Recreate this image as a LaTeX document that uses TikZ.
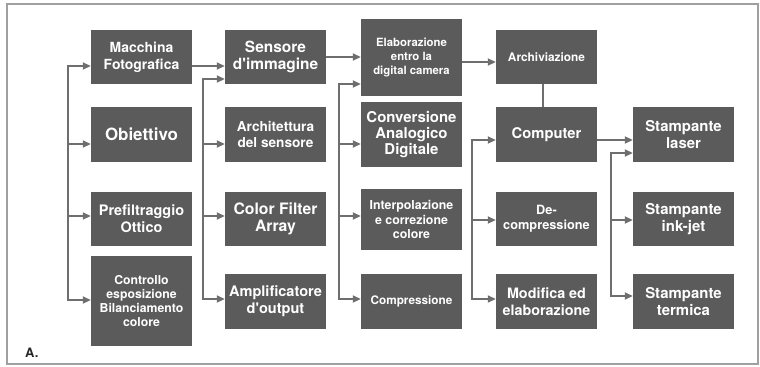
\documentclass[tikz,border=0pt]{standalone}
\usepackage{fontspec}
\setmainfont{TeX Gyre Heros}[Ligatures=TeXOff]
\usetikzlibrary{arrows.meta}

\definecolor{boxgray}{HTML}{5B5B5B}
\definecolor{linegray}{HTML}{6E6E6E}
\definecolor{framegray}{HTML}{A0A0A0}

\newcommand{\fsz}[2]{\bfseries\fontsize{#1}{#2}\selectfont}

\tikzset{
  blk/.style={fill=boxgray, text=white, align=center, inner sep=0pt,
              minimum width=101bp},
  link/.style={draw=linegray, line width=1.8bp},
  bus/.style={link, line cap=rect},
  arr/.style={link, -{Triangle[length=8bp,width=7bp]}}
}

\begin{document}
\begin{tikzpicture}[x=1bp, y=-1bp]
    \useasboundingbox (0,0) rectangle (760,366);
    \draw [framegray, line width=2bp] (7,4) rectangle (758,364);

    % first column
    \node[blk, minimum height=54bp, font=\fsz{14}{17}] (mac) at (141.5,57) {Macchina\\Fotografica};
    \node[blk, minimum height=55bp, font=\fsz{17}{20}] (obi) at (141.5,134.5) {Obiettivo};
    \node[blk, minimum height=54bp, font=\fsz{14.5}{17}] (pre) at (141.5,219) {Prefiltraggio\\Ottico};
    \node[blk, minimum height=90bp, font=\fsz{12.3}{14}] (con) at (141.5,301) {Controllo\\esposizione\\Bilanciamento\\colore};

    % second column
    \node[blk, minimum height=54bp, font=\fsz{15.5}{17}] (sen) at (275.5,57) {Sensore\\d'immagine};
    \node[blk, minimum height=55bp, font=\fsz{13.7}{16}] (arc) at (275.5,134.5) {Architettura\\del sensore};
    \node[blk, minimum height=54bp, font=\fsz{15.8}{17}] (cfa) at (275.5,219) {Color Filter\\Array};
    \node[blk, minimum height=55bp, font=\fsz{14.6}{17}] (amp) at (275.5,301.5) {Amplificatore\\d'output};

    % third column
    \node[blk, minimum height=77bp, font=\fsz{11.4}{14.5}] (ela) at (411.5,57.5) {Elaborazione\\entro la\\digital camera};
    \node[blk, minimum height=65bp, font=\fsz{15}{16}] (adc) at (411.5,134.5) {Conversione\\Analogico\\Digitale};
    \node[blk, minimum height=61bp, font=\fsz{12.4}{15}] (int) at (411.5,219.5) {Interpolazione\\e correzione\\colore};
    \node[blk, minimum height=55bp, font=\fsz{11.8}{14}] (cmp) at (411.5,301.5) {Compressione};

    % fourth column
    \node[blk, minimum height=54bp, font=\fsz{11.9}{14}] (arv) at (546.5,57) {Archiviazione};
    \node[blk, minimum height=55bp, font=\fsz{14.8}{17}] (pc) at (546.5,134.5) {Computer};
    \node[blk, minimum height=54bp, font=\fsz{12.8}{15}] (dec) at (546.5,219) {De-\\compressione};
    \node[blk, minimum height=55bp, font=\fsz{14.4}{17}] (mod) at (546.5,301.5) {Modifica ed\\elaborazione};

    % printers
    \node[blk, minimum height=55bp, font=\fsz{15}{17}] (las) at (683.5,134.5) {Stampante\\laser};
    \node[blk, minimum height=54bp, font=\fsz{15}{17}] (ink) at (683.5,219) {Stampante\\ink-jet};
    \node[blk, minimum height=55bp, font=\fsz{15}{17}] (ter) at (683.5,301.5) {Stampante\\termica};

    \node[anchor=base west, text=black!85, inner sep=0pt, font=\fsz{13}{15}] (lbl) at (25,357) {A.};

    % buses
    \foreach \bx/\ya/\yb in {68/66/300, 203/79/299, 339/84/299, 472/140/299, 611/153/296}
        \draw[bus] (\bx,\ya) -- (\bx,\yb);
    \foreach \bx/\y/\n in {68/66/mac, 68/144/obi, 68/216/pre, 68/300/con,
                           203/79/sen, 203/144/arc, 203/216/cfa, 203/299/amp,
                           339/84/ela, 339/144/adc, 339/216/int, 339/299/cmp,
                           472/140/pc, 472/220/dec, 472/299/mod,
                           611/153/las, 611/220/ink, 611/296/ter}
    {
        \coordinate (tap) at (\bx,\y);
        \draw[arr] (tap) -- (tap -| \n.west);
    }

    % straight links
    \draw[arr] ([yshift=-9bp]mac.east) -- ([yshift=-9bp]mac.east -| sen.west);
    \draw[arr] (sen.east) -- (sen.east -| ela.west);
    \draw[arr] ([yshift=-4.5bp]ela.east) -- ([yshift=-4.5bp]ela.east -| arv.west);
    \draw[link] ([xshift=-3.5bp]arv.south) -- ([xshift=-3.5bp]pc.north);
    \draw[arr] ([yshift=-5.5bp]pc.east) -- ([yshift=-5.5bp]pc.east -| las.west);
\end{tikzpicture}
\end{document}
